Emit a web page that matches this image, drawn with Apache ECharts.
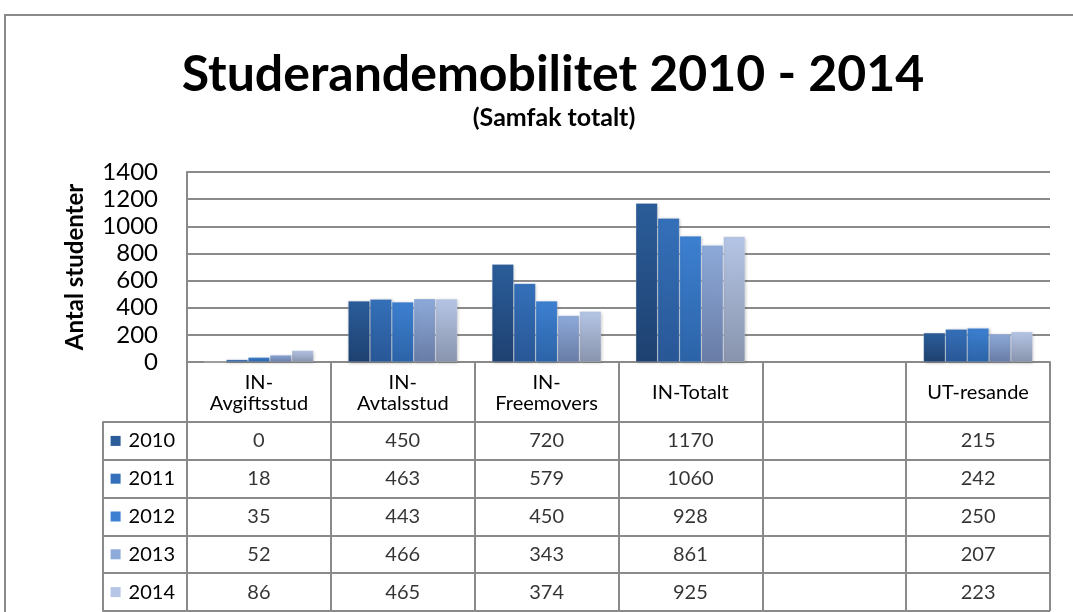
<!DOCTYPE html>
<html>
<head>
<meta charset="utf-8">
<script src="https://cdn.jsdelivr.net/npm/echarts@6/dist/echarts.min.js"></script>
<style>html,body{margin:0;padding:0;background:#fff}#c{width:1073px;height:612px}</style>
</head>
<body>
<div id="c"></div>
<script>
const categories = ['IN-\nAvgiftsstud', 'IN-\nAvtalsstud', 'IN-\nFreemovers', 'IN-Totalt', '', 'UT-resande'];
const years = ['2010', '2011', '2012', '2013', '2014'];
const v2010 = [0, 450, 720, 1170, null, 215];
const v2011 = [18, 463, 579, 1060, null, 242];
const v2012 = [35, 443, 450, 928, null, 250];
const v2013 = [52, 466, 343, 861, null, 207];
const v2014 = [86, 465, 374, 925, null, 223];
const yTicks = [0, 200, 400, 600, 800, 1000, 1200, 1400];

const values = [v2010, v2011, v2012, v2013, v2014];
const topColors = ['#2b5d9a', '#3470b9', '#3d80d1', '#8eaad9', '#b5c5e5'];
const bottomColors = ['#1e4170', '#295796', '#2c63a7', '#687ca6', '#8894ad'];
const grayLine = '#8a8a8a';
const FONT = 'Lato';

const chart = echarts.init(document.getElementById('c'));

const barSeries = years.map((y, i) => ({
  name: y,
  type: 'bar',
  xAxisIndex: 0,
  yAxisIndex: 0,
  data: values[i],
  barGap: '0%',
  barCategoryGap: '24%',
  itemStyle: {
    color: new echarts.graphic.LinearGradient(0, 0, 0, 1, [
      { offset: 0, color: topColors[i] },
      { offset: 1, color: bottomColors[i] }
    ]),
    borderColor: 'rgba(255,255,255,0.35)',
    borderWidth: 0.6,
    shadowColor: 'rgba(0,0,0,0.25)',
    shadowBlur: 3,
    shadowOffsetX: 1,
    shadowOffsetY: 1
  },
  silent: true
}));

const cellData = [];
values.forEach((arr, r) => {
  arr.forEach((v, c) => {
    if (v !== null) cellData.push([c, r, v]);
  });
});

const rich = { t: { fontFamily: FONT, fontSize: 20, color: '#000', padding: [0, 0, 0, 8] } };
years.forEach((y, i) => {
  rich['s' + i] = { width: 10, height: 10, backgroundColor: topColors[i] };
});

chart.setOption({
  animation: false,
  backgroundColor: '#fff',
  graphic: [{
    type: 'rect',
    shape: { x: 5, y: 15, width: 1200, height: 800 },
    style: { fill: 'none', stroke: grayLine, lineWidth: 2 },
    silent: true
  }],
  title: [{
    text: 'Studerandemobilitet 2010 - 2014',
    left: 548,
    top: 45,
    textAlign: 'center',
    textStyle: { fontFamily: FONT, fontWeight: 'bold', fontSize: 50, color: '#000' }
  }, {
    text: '(Samfak totalt)',
    left: 549,
    top: 100,
    textAlign: 'center',
    textStyle: { fontFamily: FONT, fontWeight: 'bold', fontSize: 25, color: '#000' }
  }],
  grid: [
    { left: 187, right: 23, top: 172, height: 190, containLabel: false },
    { left: 187, right: 23, top: 422, height: 189, containLabel: false }
  ],
  xAxis: [{
    type: 'category',
    gridIndex: 0,
    data: categories,
    boundaryGap: true,
    axisLine: { show: true, lineStyle: { color: grayLine, width: 2 } },
    axisTick: { show: true, interval: 0, alignWithLabel: false, length: 60, lineStyle: { color: grayLine, width: 2 } },
    axisLabel: {
      interval: 0, margin: 31, verticalAlign: 'middle', lineHeight: 21,
      fontFamily: FONT, fontSize: 20, color: '#000'
    },
    splitLine: { show: false }
  }, {
    type: 'category',
    gridIndex: 1,
    data: categories,
    position: 'top',
    boundaryGap: true,
    axisLine: { show: true, lineStyle: { color: grayLine, width: 2 } },
    axisTick: { show: false },
    axisLabel: { show: false },
    splitLine: { show: true, interval: 0, lineStyle: { color: grayLine, width: 2 } }
  }],
  yAxis: [{
    type: 'value',
    gridIndex: 0,
    min: 0,
    max: 1400,
    interval: 200,
    name: 'Antal studenter',
    nameLocation: 'middle',
    nameRotate: 90,
    nameGap: 100,
    nameTextStyle: { fontFamily: FONT, fontWeight: 'bold', fontSize: 24, color: '#000' },
    axisLine: { show: true, lineStyle: { color: grayLine, width: 2 } },
    axisTick: { show: false },
    axisLabel: {
      margin: 29, fontFamily: FONT, fontSize: 24, color: '#000',
      formatter: v => (yTicks.indexOf(v) >= 0 ? String(v) : '')
    },
    splitLine: { show: true, lineStyle: { color: grayLine, width: 2 } }
  }, {
    type: 'category',
    gridIndex: 1,
    data: years,
    inverse: true,
    boundaryGap: true,
    axisLine: { show: true, lineStyle: { color: grayLine, width: 2 } },
    axisTick: { show: true, interval: 0, alignWithLabel: false, length: 84, lineStyle: { color: grayLine, width: 2 } },
    axisLabel: {
      interval: 0, margin: 12, align: 'right',
      formatter: (v, i) => '{s' + i + '|}{t|' + v + '}',
      rich: rich
    },
    splitLine: { show: true, interval: 0, lineStyle: { color: grayLine, width: 2 } }
  }, {
    type: 'category',
    gridIndex: 1,
    data: years,
    inverse: true,
    position: 'left',
    offset: 84,
    axisLine: { show: true, lineStyle: { color: grayLine, width: 2 } },
    axisTick: { show: false },
    axisLabel: { show: false },
    splitLine: { show: false }
  }],
  series: barSeries.concat([{
    type: 'scatter',
    xAxisIndex: 1,
    yAxisIndex: 1,
    data: cellData,
    symbolSize: 1,
    itemStyle: { color: 'rgba(0,0,0,0)' },
    label: {
      show: true,
      position: 'inside',
      formatter: p => String(p.value[2]),
      fontFamily: FONT,
      fontSize: 20,
      color: '#000'
    },
    silent: true
  }])
});
</script>
</body>
</html>
